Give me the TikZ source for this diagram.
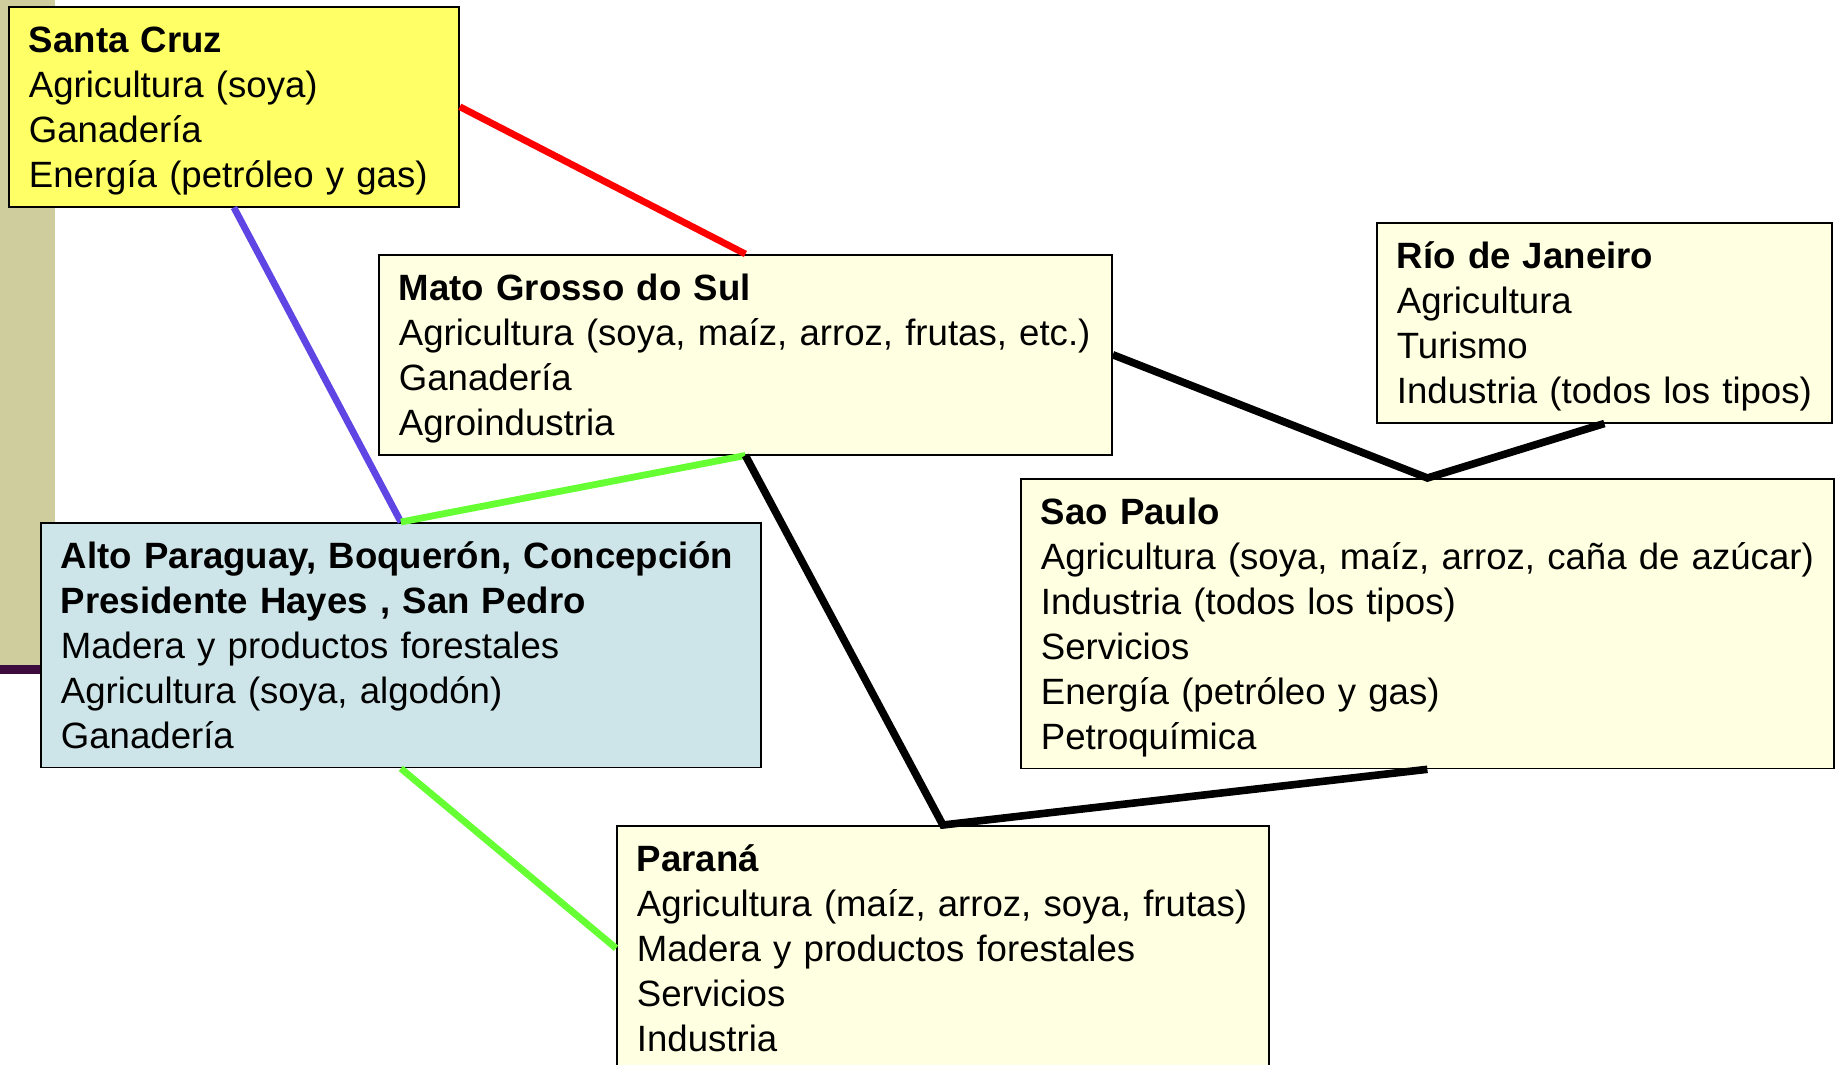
\documentclass[tikz,border=0pt]{standalone}
\usepackage{fontspec}
\setmainfont{Liberation Sans}
\usepackage{xcolor}
\usepackage{tikz}
\usetikzlibrary{
	positioning,   %定位
	calc           %计算
}
\definecolor{amarillo}{HTML}{FFFF66}
\definecolor{crema}{HTML}{FFFFE1}
\definecolor{celeste}{HTML}{CDE5E8}
\definecolor{caqui}{HTML}{CFCC9E}
\definecolor{morado}{HTML}{3E0B3E}
\definecolor{azulvi}{HTML}{5F46E4}
\definecolor{verde}{HTML}{66FF33}
\tikzstyle{region}=[rectangle,
draw=black,
line width=0.9pt,
fill=crema,
anchor=north west,
align=left,
inner xsep=10pt,
inner ysep=4pt,
text height=19pt,
font=\fontsize{18.3pt}{22.45pt}\selectfont]
\tikzstyle{enlace}=[line width=3.8pt]
\tikzstyle{color enlace}=[line width=3.4pt]
\newcommand{\fin}{\rule[-5.5pt]{0pt}{5.5pt}}
\tikzset{
	every picture/.style={
		x=0.5pt,y=-0.5pt
}}

\begin{document}
\begin{tikzpicture}
\useasboundingbox (0,0) rectangle (1836,1065);
\clip (0,0) rectangle (1836,1065);
\fill[white] (0,0) rectangle (1836,1065);
\fill[caqui] (0,0) rectangle (55,665);
\fill[morado] (0,665) rectangle (55,674);
% regiones
\node[region,fill=amarillo,text width=205pt] (santa) at (8,6)
{\textbf{Santa Cruz}\\Agricultura (soya)\\Ganadería\\\mbox{Energía (petróleo y gas)}\fin};
\node[region,text width=346.5pt] (mato) at (378,254)
{\textbf{Mato Grosso do Sul}\\\mbox{Agricultura (soya, maíz, arroz, frutas, etc.)}\\Ganadería\\Agroindustria\fin};
\node[region,text width=207.5pt] (rio) at (1376,222)
{\textbf{Río de Janeiro}\\Agricultura\\Turismo\\\mbox{Industria (todos los tipos)}\fin};
\node[region,text width=386.5pt] (sao) at (1020,478)
{\textbf{Sao Paulo}\\\mbox{Agricultura (soya, maíz, arroz, caña de azúcar)}\\Industria (todos los tipos)\\Servicios\\Energía (petróleo y gas)\\Petroquímica\fin};
\node[region,fill=celeste,text width=340pt] (alto) at (40,522)
{\mbox{\textbf{Alto Paraguay, Boquerón, Concepción}}\\\textbf{Presidente Hayes , San Pedro}\\Madera y productos forestales\\Agricultura (soya, algodón)\\Ganadería\fin};
\node[region,text width=306pt] (parana) at (616,825)
{\textbf{Paraná}\\\mbox{Agricultura (maíz, arroz, soya, frutas)}\\Madera y productos forestales\\Servicios\\Industria\fin};
% enlaces
\draw[color enlace,red] (santa.east) -- (mato.north);
\draw[color enlace,azulvi] (santa.south) -- (alto.north);
\draw[color enlace,verde] (alto.north) -- (mato.south);
\draw[color enlace,verde] (alto.south) -- (parana.west);
\draw[enlace] (mato.south) -- (parana.north) -- (sao.south);
\draw[enlace] (mato.east) -- (sao.north) -- (rio.south);
\end{tikzpicture}
\end{document}
